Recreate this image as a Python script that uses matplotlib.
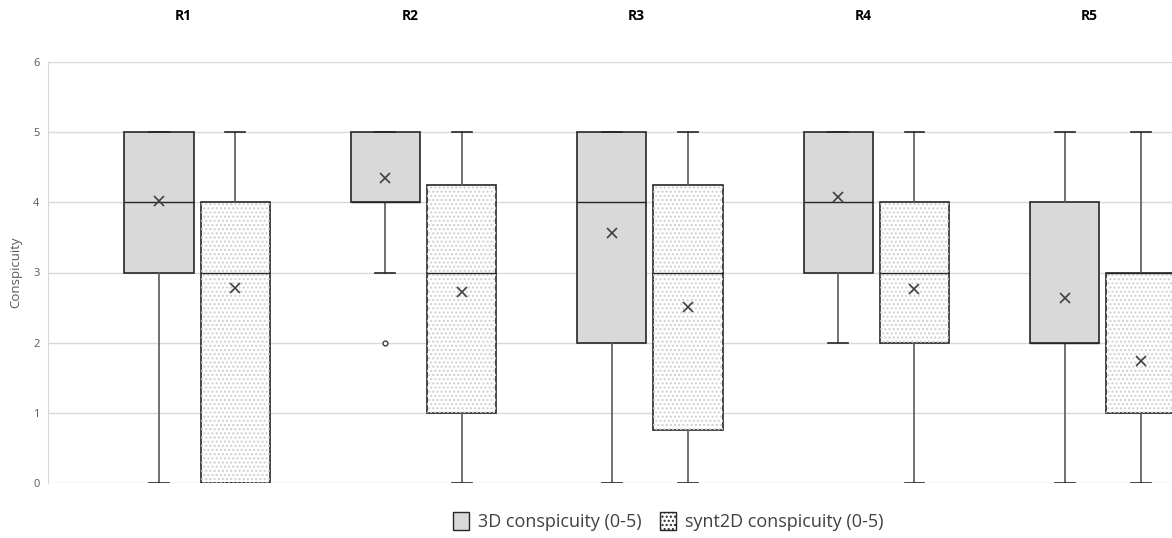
import matplotlib
matplotlib.use("Agg")
import matplotlib.pyplot as plt
from matplotlib.patches import PathPatch, Patch

plt.rcParams['font.family'] = ['Open Sans', 'DejaVu Sans']

readers = ["R1", "R2", "R3", "R4", "R5"]

# 3D conspicuity: whislo, q1, med, q3, whishi, mean
d3_low = [0, 3, 0, 2, 0]
d3_q1 = [3, 4, 2, 3, 2]
d3_med = [4, 4, 4, 4, 2]
d3_q3 = [5, 5, 5, 5, 4]
d3_high = [5, 5, 5, 5, 5]
d3_mean = [4.02, 4.35, 3.56, 4.08, 2.64]
d3_fliers = [[], [2], [], [], []]

# synt2D conspicuity
s2_low = [0, 0, 0, 0, 0]
s2_q1 = [0, 1, 0.75, 2, 1]
s2_med = [3, 3, 3, 3, 3]
s2_q3 = [4, 4.25, 4.25, 4, 3]
s2_high = [5, 5, 5, 5, 5]
s2_mean = [2.78, 2.72, 2.51, 2.76, 1.74]
s2_fliers = [[], [], [], [], []]


def make_stats(low, q1, med, q3, high, mean, fliers):
    return [dict(whislo=a, q1=b, med=c, q3=d, whishi=e, mean=m, fliers=f)
            for a, b, c, d, e, m, f in zip(low, q1, med, q3, high, mean, fliers)]


stats_3d = make_stats(d3_low, d3_q1, d3_med, d3_q3, d3_high, d3_mean, d3_fliers)
stats_2d = make_stats(s2_low, s2_q1, s2_med, s2_q3, s2_high, s2_mean, s2_fliers)

fig = plt.figure(figsize=(11.72, 5.38), dpi=100)
ax = fig.add_axes([48 / 1172, 55 / 538, 1 - 48 / 1172, 421 / 538])

offset = 0.168
width = 0.305
common = dict(
    widths=width,
    capwidths=0.088,
    patch_artist=True,
    showmeans=True,
    medianprops=dict(color="#262626", linewidth=1),
    whiskerprops=dict(color="#595959", linewidth=1.2),
    capprops=dict(color="#262626", linewidth=1.2),
    meanprops=dict(marker="x", markersize=6.5, markeredgecolor="#404040",
                   markeredgewidth=1.2),
    flierprops=dict(marker="o", markersize=3.5, markerfacecolor="white",
                    markeredgecolor="#404040", markeredgewidth=1),
    manage_ticks=False,
)

pos = list(range(len(readers)))
b1 = ax.bxp(stats_3d, positions=[p - offset for p in pos],
            boxprops=dict(facecolor="#d9d9d9", edgecolor="#262626", linewidth=1.2),
            **common)
b2 = ax.bxp(stats_2d, positions=[p + offset for p in pos],
            boxprops=dict(facecolor="white", edgecolor="#262626", linewidth=1.2),
            **common)

# dotted fill for the synt2D boxes, lighter than the outline
for box in b2["boxes"]:
    hp = PathPatch(box.get_path(), facecolor="none", edgecolor="#cfcfcf",
                   hatch="....", linewidth=0, zorder=box.get_zorder() + 0.1)
    ax.add_patch(hp)

for part in ("medians", "means", "fliers"):
    for art in b1[part] + b2[part]:
        art.set_zorder(5)

ax.set_xlim(-0.658, 4.305)
ax.set_ylim(0, 6)
ax.set_yticks(range(7))
ax.grid(axis="y", color="#d9d9d9", linewidth=1)
ax.set_axisbelow(True)
for s in ("top", "right", "bottom"):
    ax.spines[s].set_visible(False)
ax.spines["left"].set_color("#d9d9d9")
ax.tick_params(axis="y", length=0, labelsize=8, labelcolor="#595959", pad=6)
ax.tick_params(axis="x", length=0, labelbottom=False)
ax.set_ylabel("Conspicuity", fontsize=9.5, color="#595959", labelpad=8)

for p, r in zip(pos, readers):
    ax.text(p - 0.06, 1.11, r, transform=ax.get_xaxis_transform(), ha="center",
            va="center", fontsize=10, fontweight="bold", color="black")

handles = [Patch(facecolor="#d9d9d9", edgecolor="#262626", linewidth=1),
           Patch(facecolor="white", edgecolor="#262626", linewidth=1, hatch="....")]
fig.legend(handles, ["3D conspicuity (0-5)", "synt2D conspicuity (0-5)"],
           loc="center", bbox_to_anchor=(0.57, 0.03), ncol=2, frameon=False,
           fontsize=13, handlelength=0.9, handleheight=1.1, handletextpad=0.5,
           columnspacing=1.0, labelcolor="#404040")

fig.savefig("out.png", dpi=100)
